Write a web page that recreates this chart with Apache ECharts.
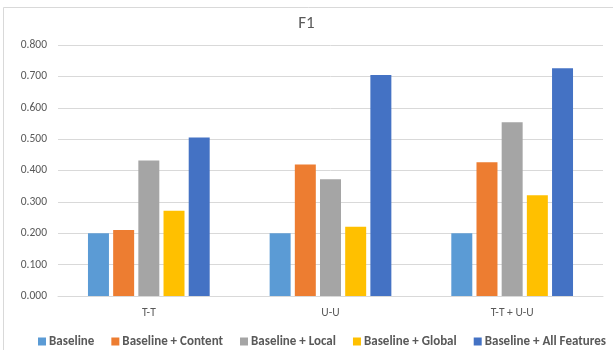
<!DOCTYPE html>
<html>
<head>
<meta charset="utf-8">
<script src="https://cdn.jsdelivr.net/npm/echarts@6/dist/echarts.min.js"></script>
<style>
  html, body { margin: 0; padding: 0; background: #ffffff; }
  #chart { width: 613px; height: 350px; }
</style>
</head>
<body>
<div id="chart"></div>
<script>
// F1 scores per setting
const categories = ['T-T', 'U-U', 'T-T + U-U'];
const seriesNames = ['Baseline', 'Baseline + Content', 'Baseline + Local', 'Baseline + Global', 'Baseline + All Features'];
const baseline    = [0.200, 0.200, 0.200];
const content     = [0.210, 0.419, 0.426];
const local       = [0.432, 0.372, 0.554];
const global      = [0.272, 0.221, 0.321];
const allFeatures = [0.505, 0.704, 0.726];
const yTicks = ['0.000', '0.100', '0.200', '0.300', '0.400', '0.500', '0.600', '0.700', '0.800'];

const values = [baseline, content, local, global, allFeatures];
const colors = ['#5B9BD5', '#ED7D31', '#A5A5A5', '#FFC000', '#4472C4'];
const font = 'Calibri, Carlito, "Open Sans", "Noto Sans", sans-serif';

const chart = echarts.init(document.getElementById('chart'), null, { renderer: 'canvas' });
chart.setOption({
  animation: false,
  backgroundColor: '#ffffff',
  textStyle: { fontFamily: font },
  title: {
    text: 'F1',
    left: 'center',
    top: 10,
    textStyle: { fontSize: 17, fontWeight: 'normal', color: '#595959', fontFamily: font }
  },
  graphic: [{
    type: 'rect',
    shape: { x: 3.5, y: 7.5, width: 620, height: 360 },
    style: { fill: 'none', stroke: '#d9d9d9', lineWidth: 1 },
    silent: true
  }],
  legend: {
    top: 330,
    left: 33,
    itemWidth: 8,
    itemHeight: 8,
    itemGap: 17,
    icon: 'rect',
    textStyle: { fontSize: 13, fontWeight: 'bold', color: '#595959', fontFamily: font, padding: [0, 0, 0, -2] },
    data: seriesNames
  },
  grid: { left: 58, right: 10, top: 45, bottom: 54, containLabel: false },
  xAxis: {
    type: 'category',
    data: categories,
    axisTick: { show: false },
    axisLine: { lineStyle: { color: '#d9d9d9' } },
    axisLabel: { color: '#595959', fontSize: 11.5, margin: 11, fontFamily: font }
  },
  yAxis: {
    type: 'value',
    min: 0,
    max: 0.8,
    interval: 0.1,
    axisLine: { show: false },
    axisTick: { show: false },
    splitLine: { lineStyle: { color: '#d9d9d9', width: 1 } },
    axisLabel: {
      color: '#595959',
      fontSize: 11.5,
      margin: 11,
      fontFamily: font,
      formatter: function (v) { return yTicks[Math.round(v * 10)]; }
    }
  },
  series: seriesNames.map(function (name, i) {
    return {
      name: name,
      type: 'bar',
      data: values[i],
      barGap: '20%',
      barCategoryGap: '33%',
      itemStyle: { color: colors[i] }
    };
  })
});
</script>
</body>
</html>
